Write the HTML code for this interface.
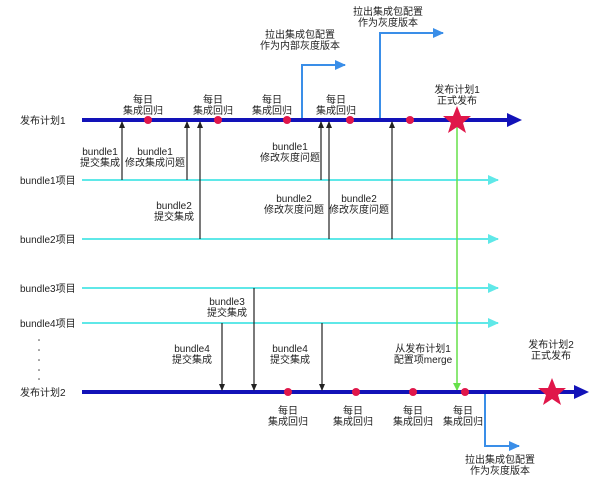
<!DOCTYPE html>
<html><head><meta charset="utf-8"><style>
body{margin:0;background:#fff}
text{font-family:"Liberation Sans","Noto Sans CJK SC",sans-serif;font-size:10px;fill:#222}
</style></head><body>
<svg width="603" height="480" viewBox="0 0 603 480" xmlns="http://www.w3.org/2000/svg">
<defs>
<marker id="ab" markerWidth="8" markerHeight="8" refX="6" refY="4" orient="auto" markerUnits="userSpaceOnUse"><path d="M0,1 L7,4 L0,7z" fill="#222"/></marker>
<marker id="al" markerWidth="12" markerHeight="10" refX="10" refY="5" orient="auto" markerUnits="userSpaceOnUse"><path d="M0,0 L11,5 L0,10z" fill="#3a8ee8"/></marker>
<marker id="ac" markerWidth="12" markerHeight="10" refX="10" refY="5" orient="auto" markerUnits="userSpaceOnUse"><path d="M0,0 L11,5 L0,10z" fill="#5fe8e8"/></marker>
</defs>
<!-- left labels -->
<text x="20" y="124">发布计划1</text>
<text x="20" y="184">bundle1项目</text>
<text x="20" y="243">bundle2项目</text>
<text x="20" y="292">bundle3项目</text>
<text x="20" y="327">bundle4项目</text>
<text x="20" y="396">发布计划2</text>
<g fill="#444"><circle cx="39" cy="340" r="0.8"/><circle cx="39" cy="350" r="0.8"/><circle cx="39" cy="360" r="0.8"/><circle cx="39" cy="370" r="0.8"/><circle cx="39" cy="379" r="0.8"/></g>
<!-- cyan lines -->
<g stroke="#5fe8e8" stroke-width="2">
<line x1="82" y1="180" x2="498" y2="180" marker-end="url(#ac)"/>
<line x1="82" y1="239" x2="498" y2="239" marker-end="url(#ac)"/>
<line x1="82" y1="288" x2="498" y2="288" marker-end="url(#ac)"/>
<line x1="82" y1="323" x2="498" y2="323" marker-end="url(#ac)"/>
</g>
<!-- green -->
<line x1="457" y1="120" x2="457" y2="390" stroke="#66e04a" stroke-width="1.5"/>
<path d="M453,383 L457,391 L461,383z" fill="#66e04a"/>
<!-- blue branches -->
<g stroke="#3a8ee8" stroke-width="2" fill="none">
<polyline points="302,120 302,65 345,65" marker-end="url(#al)"/>
<polyline points="380,120 380,33 443,33" marker-end="url(#al)"/>
<polyline points="485,392 485,446 519,446" marker-end="url(#al)"/>
</g>
<!-- main lines -->
<line x1="82" y1="120" x2="510" y2="120" stroke="#1212b8" stroke-width="4"/>
<path d="M507,113 L522,120 L507,127z" fill="#1212b8"/>
<line x1="82" y1="392" x2="576" y2="392" stroke="#1212b8" stroke-width="4"/>
<path d="M574,385 L589,392 L574,399z" fill="#1212b8"/>
<!-- black arrows -->
<g stroke="#222" stroke-width="1.2">
<line x1="122" y1="180" x2="122" y2="122" marker-end="url(#ab)"/>
<line x1="187" y1="180" x2="187" y2="122" marker-end="url(#ab)"/>
<line x1="200" y1="239" x2="200" y2="122" marker-end="url(#ab)"/>
<line x1="321" y1="180" x2="321" y2="122" marker-end="url(#ab)"/>
<line x1="329" y1="239" x2="329" y2="122" marker-end="url(#ab)"/>
<line x1="392" y1="239" x2="392" y2="122" marker-end="url(#ab)"/>
<line x1="222" y1="323" x2="222" y2="390" marker-end="url(#ab)"/>
<line x1="254" y1="288" x2="254" y2="390" marker-end="url(#ab)"/>
<line x1="322" y1="323" x2="322" y2="390" marker-end="url(#ab)"/>
</g>
<!-- dots -->
<g fill="#e0174a">
<circle cx="148" cy="120" r="4"/><circle cx="218" cy="120" r="4"/><circle cx="287" cy="120" r="4"/><circle cx="350" cy="120" r="4"/><circle cx="410" cy="120" r="4"/>
<circle cx="288" cy="392" r="4"/><circle cx="356" cy="392" r="4"/><circle cx="413" cy="392" r="4"/><circle cx="465" cy="392" r="4"/>
</g>
<!-- stars -->
<path d="M457,106 L461,116 L471,116 L463,123 L466,133 L457,127 L448,133 L451,123 L443,116 L453,116z" fill="#e0174a"/>
<path d="M552,378 L556,388 L566,388 L558,395 L561,405 L552,399 L543,405 L546,395 L538,388 L548,388z" fill="#e0174a"/>
<!-- labels -->
<g text-anchor="middle">
<text x="143" y="103">每日</text><text x="143" y="114">集成回归</text>
<text x="213" y="103">每日</text><text x="213" y="114">集成回归</text>
<text x="272" y="103">每日</text><text x="272" y="114">集成回归</text>
<text x="336" y="103">每日</text><text x="336" y="114">集成回归</text>
<text x="100" y="155">bundle1</text><text x="100" y="166">提交集成</text>
<text x="155" y="155">bundle1</text><text x="155" y="166">修改集成问题</text>
<text x="174" y="209">bundle2</text><text x="174" y="220">提交集成</text>
<text x="290" y="150">bundle1</text><text x="290" y="161">修改灰度问题</text>
<text x="294" y="202">bundle2</text><text x="294" y="213">修改灰度问题</text>
<text x="359" y="202">bundle2</text><text x="359" y="213">修改灰度问题</text>
<text x="300" y="38">拉出集成包配置</text><text x="300" y="49">作为内部灰度版本</text>
<text x="388" y="15">拉出集成包配置</text><text x="388" y="26">作为灰度版本</text>
<text x="457" y="93">发布计划1</text><text x="457" y="104">正式发布</text>
<text x="227" y="305">bundle3</text><text x="227" y="316">提交集成</text>
<text x="192" y="352">bundle4</text><text x="192" y="363">提交集成</text>
<text x="290" y="352">bundle4</text><text x="290" y="363">提交集成</text>
<text x="423" y="352">从发布计划1</text><text x="423" y="363">配置项merge</text>
<text x="551" y="348">发布计划2</text><text x="551" y="359">正式发布</text>
<text x="288" y="414">每日</text><text x="288" y="425">集成回归</text>
<text x="353" y="414">每日</text><text x="353" y="425">集成回归</text>
<text x="413" y="414">每日</text><text x="413" y="425">集成回归</text>
<text x="463" y="414">每日</text><text x="463" y="425">集成回归</text>
<text x="500" y="463">拉出集成包配置</text><text x="500" y="474">作为灰度版本</text>
</g>
</svg>
</body></html>
